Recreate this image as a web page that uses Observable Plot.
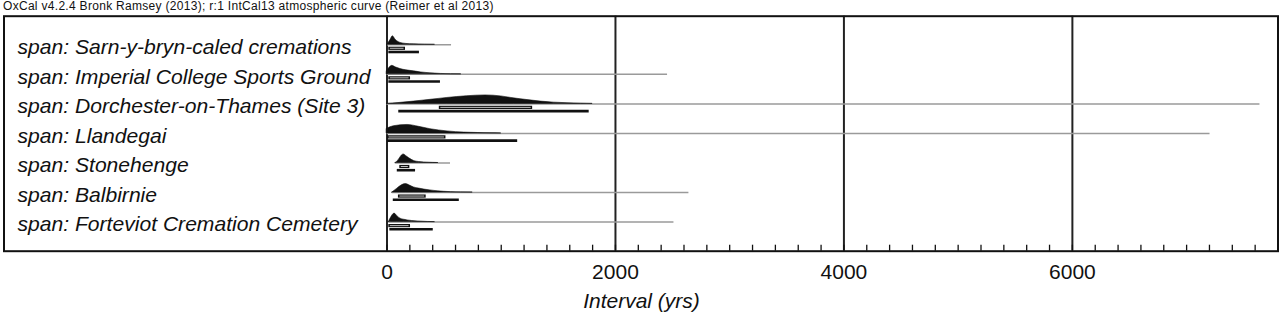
<!DOCTYPE html>
<html>
<head>
<meta charset="utf-8">
<script src="https://cdn.jsdelivr.net/npm/d3@7"></script>
<script src="https://cdn.jsdelivr.net/npm/@observablehq/plot@0.6"></script>
<style>
  body { margin: 0; background: #fff; }
  #wrap { position: relative; width: 1283px; height: 323px; font-family: "Liberation Sans", Arial, sans-serif; }
  #hdr { position: absolute; left: 3px; top: 0px; font-size: 12px; letter-spacing: 0.3px; line-height: 12px; color: #111; white-space: nowrap; }
  #wrap svg { position: absolute; left: 0; top: 0; }
</style>
</head>
<body>
<div id="wrap"><div id="hdr">OxCal v4.2.4 Bronk Ramsey (2013); r:1 IntCal13 atmospheric curve (Reimer et al 2013)</div></div>
<script>
// Sites (rows, top to bottom)
const sites = [
  "Sarn-y-bryn-caled cremations",
  "Imperial College Sports Ground",
  "Dorchester-on-Thames (Site 3)",
  "Llandegai",
  "Stonehenge",
  "Balbirnie",
  "Forteviot Cremation Cemetery"
];

// Extent of each calculated distribution (grey line), years
const extentFrom = [5, 0, 0, 0, 75, 46, 16];
const extentTo   = [565, 2456, 7642, 7205, 556, 2643, 2512];

// 68.2% ranges
const r68From = [16, 16, 458, 5, 112, 100, 16];
const r68To   = [162, 206, 1275, 516, 200, 343, 206];

// 95.4% ranges
const r95From = [16, 16, 103, 5, 90, 55, 25];
const r95To   = [284, 468, 1770, 1144, 250, 633, 405];

// Probability densities (relative, peak = 1): [years, density]
const densSarn = [[5,0],[30,0.55],[51,1],[75,0.6],[118,0.22],[170,0.1],[236,0.05],[330,0.015],[420,0]];
const densImperial = [[0,0.4],[20,0.75],[46,1],[80,0.8],[118,0.62],[170,0.47],[236,0.35],[300,0.22],[380,0.12],[470,0.05],[560,0.015],[650,0]];
const densDorchester = [[0,0],[100,0.1],[236,0.27],[380,0.48],[528,0.7],[700,0.9],[862,1],[1000,0.88],[1110,0.65],[1230,0.45],[1345,0.27],[1460,0.15],[1580,0.08],[1700,0.03],[1800,0]];
const densLlandegai = [[0,0.55],[60,0.85],[180,1],[280,0.78],[380,0.5],[530,0.24],[675,0.1],[800,0.05],[905,0.02],[1000,0]];
const densStonehenge = [[75,0],[100,0.3],[125,0.8],[146,1],[170,0.8],[195,0.55],[240,0.22],[280,0.12],[327,0.06],[400,0.02],[450,0]];
const densBalbirnie = [[46,0],[90,0.45],[130,0.85],[166,1],[200,0.82],[236,0.6],[280,0.47],[327,0.35],[380,0.25],[444,0.15],[500,0.09],[560,0.05],[650,0.02],[750,0]];
const densForteviot = [[16,0],[35,0.5],[66,1],[90,0.7],[118,0.4],[150,0.28],[180,0.2],[220,0.13],[268,0.08],[356,0.02],[420,0]];
const densities = [densSarn, densImperial, densDorchester, densLlandegai, densStonehenge, densBalbirnie, densForteviot];

// Axis ticks
const majorTicks = [0, 2000, 4000, 6000];
const minorTicks = d3.range(0, 7801, 200);
const axisTitle = ["Interval (yrs)"];

// Tables built from the arrays
const densRows = sites.flatMap((s, i) => densities[i].map(([x, h]) => ({site: s, x, h})));
const rangeRows = sites.map((s, i) => ({
  site: s,
  e1: extentFrom[i], e2: extentTo[i],
  a1: r68From[i], a2: r68To[i],
  b1: r95From[i], b2: r95To[i]
}));

const ink = "#111";
const common = {
  width: 1283,
  height: 323,
  marginTop: 15.7,
  marginBottom: 72.3,
  marginLeft: 386.5,
  marginRight: 5.5,
  style: {fontFamily: "'Liberation Sans', Arial, sans-serif", color: ink, background: "transparent", overflow: "visible"},
  x: {domain: [0, 7800], axis: null}
};

// Background layer: frame, grid, axis
const back = Plot.plot({
  ...common,
  marks: [
    Plot.ruleX(majorTicks, {stroke: "#222", strokeWidth: 2}),
    Plot.frame({insetLeft: -383, stroke: ink, strokeWidth: 2}),
    Plot.axisX({ticks: minorTicks, tickSize: -6, tickFormat: () => "", label: null, stroke: ink, strokeWidth: 1.3}),
    Plot.axisX({ticks: majorTicks, tickSize: 0, tickPadding: 13, fontSize: 21, label: null, tickFormat: d => String(d)}),
    Plot.text(axisTitle, {frameAnchor: "bottom", dx: -191, dy: 57, fontSize: 21, fontStyle: "italic", fill: ink})
  ]
});

// Foreground layer: one facet row per site
const front = Plot.plot({
  ...common,
  y: {domain: [-1.767, 1.709], axis: null},
  fy: {domain: sites, paddingInner: 0, paddingOuter: 0.476, round: false, axis: null},
  marks: [
    Plot.ruleY(rangeRows, {fy: "site", x1: "e1", x2: "e2", y: 0, stroke: "#9a9a9a", strokeWidth: 1.5}),
    Plot.areaY(densRows, {fy: "site", x: "x", y: "h", curve: "monotone-x", fill: ink, stroke: ink, strokeWidth: 0.6}),
    Plot.ruleY(rangeRows, {fy: "site", x1: "a1", x2: "a2", y: 0, dy: 3.5, stroke: ink, strokeWidth: 3.2}),
    Plot.ruleY(rangeRows, {fy: "site", x1: "a1", x2: "a2", y: 0, dy: 3.5, insetLeft: 1.5, insetRight: 1.5, stroke: "#d0d0d0", strokeWidth: 0.9}),
    Plot.ruleY(rangeRows, {fy: "site", x1: "b1", x2: "b2", y: 0, dy: 7.2, stroke: ink, strokeWidth: 2.6}),
    Plot.text(sites, {fy: d => d, text: d => "span: " + d, frameAnchor: "left", textAnchor: "start", dx: -369.5, dy: 2.2, fontSize: 21.1, fontStyle: "italic", fill: ink})
  ]
});

const wrap = document.getElementById("wrap");
wrap.prepend(front);
wrap.prepend(back);
</script>
</body>
</html>
